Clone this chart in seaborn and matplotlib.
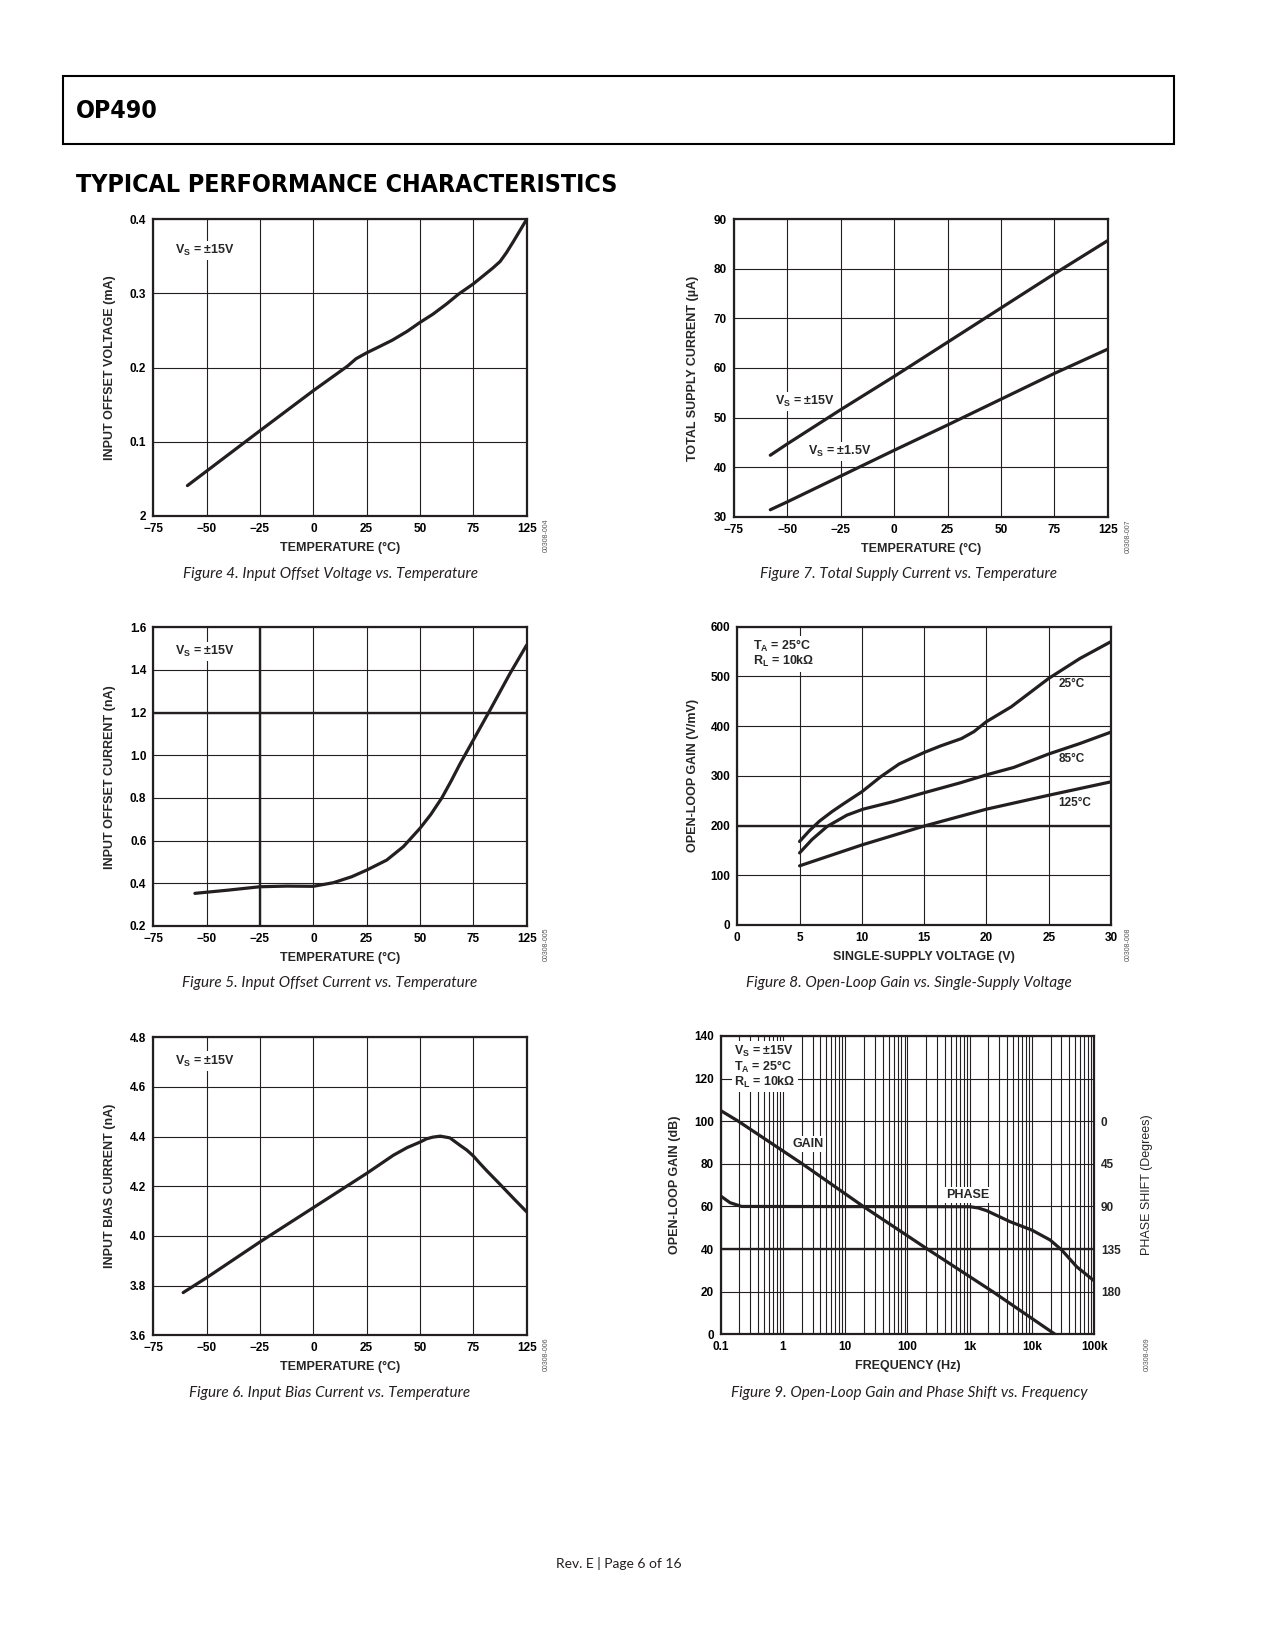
import matplotlib
matplotlib.use("Agg")
import matplotlib.pyplot as plt
import seaborn as sns
import numpy as np
import pandas as pd
from matplotlib import font_manager as fm
from matplotlib.patches import Rectangle
from matplotlib.ticker import LogLocator, NullFormatter

# ---------------- data ----------------
# Figure 4: input offset voltage vs temperature (printed axis: last tick labelled 125)
fig4_temp = [-59, -25, 0, 16, 20, 25, 30, 37, 44, 50, 56, 62.5, 68, 75, 81, 84, 87.5, 90.5, 93.75, 97.7, 100]
fig4_vos = [0.041, 0.115, 0.169, 0.202, 0.212, 0.220, 0.227, 0.237, 0.249, 0.261, 0.272, 0.286, 0.299, 0.313, 0.327, 0.334, 0.343, 0.355, 0.370, 0.389, 0.400]

# Figure 5: input offset current vs temperature
fig5_temp = [-55.5, -40, -25, -12.5, 0, 9.4, 18, 25, 34.4, 42.2, 50, 55, 60.2, 64.5, 68.75, 75, 82.8, 92.2, 100]
fig5_ios = [0.353, 0.368, 0.384, 0.387, 0.386, 0.403, 0.431, 0.462, 0.509, 0.572, 0.658, 0.722, 0.800, 0.878, 0.960, 1.072, 1.212, 1.384, 1.517]

# Figure 6: input bias current vs temperature
fig6_temp = [-61, -50, -25, 0, 25, 37.5, 44, 50, 53, 56, 59.5, 64, 68.75, 71.9, 75, 78.1, 81.25, 87.5, 93.75, 100]
fig6_ib = [3.772, 3.832, 3.976, 4.114, 4.252, 4.325, 4.356, 4.378, 4.391, 4.398, 4.402, 4.395, 4.365, 4.346, 4.322, 4.292, 4.263, 4.208, 4.152, 4.097]

# Figure 7: total supply current vs temperature
fig7_temp = [-58, -50, -25, 0, 25, 50, 75, 100]
fig7_vs15 = [42.4, 44.7, 51.6, 58.3, 65.2, 72.1, 79.0, 85.7]
fig7_vs1p5 = [31.4, 33.0, 38.2, 43.4, 48.5, 53.7, 58.9, 63.8]

# Figure 8: open-loop gain vs single-supply voltage
fig8_v25 = [5, 5.8, 6.6, 7.6, 8.6, 10, 11.5, 13, 15, 16.3, 18, 19, 20, 22, 25, 27.5, 30]
fig8_g25 = [168, 190, 209, 228, 245, 268, 298, 324, 347, 360, 375, 389, 409, 439, 496, 536, 570]
fig8_v85 = [5, 6, 7.2, 8.8, 10.1, 12.5, 15, 17.9, 20, 22.2, 25, 27.5, 30]
fig8_g85 = [145, 172, 198, 221, 233, 248, 266, 286, 302, 317, 344, 365, 388]
fig8_v125 = [5, 10, 15, 20, 25, 30]
fig8_g125 = [119, 161, 199, 233, 261, 288]

# Figure 9: open-loop gain and phase vs frequency
fig9_freq_gain = [0.1, 0.192, 2.05, 19.6, 210, 2360, 23700]
fig9_gain_db = [105, 100, 80, 60, 40, 20, 0]
fig9_freq_phase = [0.1, 0.141, 0.217, 1020, 1380, 1890, 4480, 10000, 19700, 30300, 52800, 100000]
fig9_phase_deg = [79, 86, 90, 90.3, 91.6, 94.5, 106.1, 114.9, 125.4, 136, 153.7, 168.4]

temp_ticks = [-75, -50, -25, 0, 25, 50, 75, 100]
temp_labels = ["\u221275", "\u221250", "\u221225", "0", "25", "50", "75", "125"]
fig4_yticks = [0, 0.1, 0.2, 0.3, 0.4]
fig4_ylabels = ["2", "0.1", "0.2", "0.3", "0.4"]
fig5_yticks = [0.2, 0.4, 0.6, 0.8, 1.0, 1.2, 1.4, 1.6]
fig6_yticks = [3.6, 3.8, 4.0, 4.2, 4.4, 4.6, 4.8]
fig7_yticks = [30, 40, 50, 60, 70, 80, 90]
fig8_xticks = [0, 5, 10, 15, 20, 25, 30]
fig8_yticks = [0, 100, 200, 300, 400, 500, 600]
fig9_xticks = [0.1, 1, 10, 100, 1e3, 1e4, 1e5]
fig9_xlabels = ["0.1", "1", "10", "100", "1k", "10k", "100k"]
fig9_yticks = [0, 20, 40, 60, 80, 100, 120, 140]
fig9_phase_ticks = [0, 45, 90, 135, 180]

# ---------------- style ----------------
W, H = 1275, 1650
sns.set_theme(style="white")
plt.rcParams["font.family"] = ["Liberation Sans", "DejaVu Sans"]
plt.rcParams["mathtext.fontset"] = "custom"
plt.rcParams["mathtext.rm"] = "Liberation Sans:bold"
plt.rcParams["mathtext.it"] = "Liberation Sans:bold"
plt.rcParams["mathtext.bf"] = "Liberation Sans:bold"
plt.rcParams["mathtext.sf"] = "Liberation Sans:bold"

names = {f.name for f in fm.fontManager.ttflist}


def find_condensed_bold():
    pref = []
    for f in fm.fontManager.ttflist:
        nm = f.name
        w = f.weight if isinstance(f.weight, int) else {"bold": 700, "heavy": 800, "black": 900,
                                                         "semibold": 600, "demibold": 600}.get(str(f.weight), 400)
        narrow = ("Narrow" in nm or "Condensed" in nm or "Cond" in nm
                  or str(f.stretch) in ("condensed", "semi-condensed", "extra-condensed", "ultra-condensed"))
        if narrow and w >= 600 and f.style == "normal":
            pref.append(f)
    return pref[0] if pref else None


cf = find_condensed_bold()
if cf is not None:
    title_fp = fm.FontProperties(fname=cf.fname)
else:
    title_fp = fm.FontProperties(family="DejaVu Sans", weight="bold")
cap_family = "Lato" if "Lato" in names else "Open Sans"

INK = "#231f20"
TICK_FS = 8.5
LAB_FS = 9
ANN_FS = 9

fig = plt.figure(figsize=(12.75, 16.5), dpi=100)
renderer = fig.canvas.get_renderer()


def px_rect(l, r, t, b):
    return [l / W, 1 - b / H, (r - l) / W, (b - t) / H]


def style_axes(ax, box, xlabel, ylabel):
    l, r, t, b = box
    w, h = r - l, b - t
    ax.tick_params(length=0, labelsize=TICK_FS, pad=5, colors="black")
    for lab in ax.get_xticklabels() + ax.get_yticklabels():
        lab.set_fontweight("bold")
    ax.grid(True, which="major", color=INK, lw=0.8)
    ax.set_axisbelow(True)
    for s in ax.spines.values():
        s.set_visible(True)
        s.set_color(INK)
        s.set_linewidth(1.6)
    ax.set_xlabel(xlabel, fontsize=LAB_FS, fontweight="bold", va="center", ha="center")
    ax.set_ylabel(ylabel, fontsize=LAB_FS, fontweight="bold", va="center", ha="center")
    ax.xaxis.set_label_coords(0.5, -32 / h)
    ax.yaxis.set_label_coords(-43 / w, 0.5)


def ann(ax, x, y, s, ha="left", pad=1.5, ls=1.2, fs=ANN_FS):
    ax.text(x, y, s, transform=ax.transAxes, fontsize=fs, fontweight="bold",
            ha=ha, va="center", linespacing=ls,
            bbox=dict(facecolor="white", edgecolor="none", pad=pad), zorder=2.5)


def caption(x, y, s):
    fig.text(x / W, 1 - y / H, s, ha="center", va="center", family=cap_family,
             style="italic", fontsize=11, color="#231f20")


def code(x, y, s):
    fig.text(x / W, 1 - y / H, s, ha="center", va="center", rotation=90,
             fontsize=5, color="#555555")


def fit_text(x, y, s, target_w, max_cap):
    t = fig.text(x / W, 1 - y / H, s, ha="left", va="center", color="black",
                 fontproperties=title_fp.copy())
    t.set_fontsize(20)
    bb = t.get_window_extent(renderer)
    size = 20 * target_w / bb.width
    t.set_fontsize(min(size, max_cap))
    return t


def curve(ax, x, y):
    sns.lineplot(x=x, y=y, ax=ax, color=INK, linewidth=2.3, zorder=3)


VS15 = "V$_{\\mathrm{S}}$ = \u00b115V"
VS1p5 = "V$_{\\mathrm{S}}$ = \u00b11.5V"
TA = "T$_{\\mathrm{A}}$ = 25\u00b0C"
RL = "R$_{\\mathrm{L}}$ = 10k\u03a9"

# ---------------- Figure 4 ----------------
b4 = (153.3, 526.7, 219.3, 516)
ax4 = fig.add_axes(px_rect(*b4))
curve(ax4, fig4_temp, fig4_vos)
ax4.set_xlim(-75, 100)
ax4.set_ylim(0, 0.4)
ax4.set_xticks(temp_ticks, temp_labels)
ax4.set_yticks(fig4_yticks, fig4_ylabels)
style_axes(ax4, b4, "TEMPERATURE (\u00b0C)", "INPUT OFFSET VOLTAGE (mA)")
ann(ax4, 0.058, 0.895, VS15)
caption(330, 574, "Figure 4. Input Offset Voltage vs. Temperature")
code(546, 535, "00308-004")

# ---------------- Figure 5 ----------------
b5 = (153.3, 526.7, 627.3, 926)
ax5 = fig.add_axes(px_rect(*b5))
curve(ax5, fig5_temp, fig5_ios)
ax5.set_xlim(-75, 100)
ax5.set_ylim(0.2, 1.6)
ax5.set_xticks(temp_ticks, temp_labels)
ax5.set_yticks(fig5_yticks, [f"{v:.1f}" for v in fig5_yticks])
style_axes(ax5, b5, "TEMPERATURE (\u00b0C)", "INPUT OFFSET CURRENT (nA)")
ax5.axvline(-25, color=INK, lw=1.7, zorder=1)
ax5.axhline(1.2, color=INK, lw=1.7, zorder=1)
ann(ax5, 0.058, 0.919, VS15)
caption(330, 983.5, "Figure 5. Input Offset Current vs. Temperature")
code(546, 944, "00308-005")

# ---------------- Figure 6 ----------------
b6 = (153.3, 526.7, 1037.3, 1335.3)
ax6 = fig.add_axes(px_rect(*b6))
curve(ax6, fig6_temp, fig6_ib)
ax6.set_xlim(-75, 100)
ax6.set_ylim(3.6, 4.8)
ax6.set_xticks(temp_ticks, temp_labels)
ax6.set_yticks(fig6_yticks, [f"{v:.1f}" for v in fig6_yticks])
style_axes(ax6, b6, "TEMPERATURE (\u00b0C)", "INPUT BIAS CURRENT (nA)")
ann(ax6, 0.058, 0.920, VS15)
caption(330, 1393, "Figure 6. Input Bias Current vs. Temperature")
code(546, 1354, "00308-006")

# ---------------- Figure 7 ----------------
b7 = (734, 1107.7, 219.3, 516.7)
ax7 = fig.add_axes(px_rect(*b7))
curve(ax7, fig7_temp, fig7_vs15)
curve(ax7, fig7_temp, fig7_vs1p5)
ax7.set_xlim(-75, 100)
ax7.set_ylim(30, 90)
ax7.set_xticks(temp_ticks, temp_labels)
ax7.set_yticks(fig7_yticks, [str(v) for v in fig7_yticks])
style_axes(ax7, b7, "TEMPERATURE (\u00b0C)", "TOTAL SUPPLY CURRENT (\u00b5A)")
ax7.yaxis.set_label_coords(-41 / (b7[1] - b7[0]), 0.5)
ann(ax7, 0.110, 0.387, VS15)
ann(ax7, 0.198, 0.220, VS1p5)
caption(909, 574, "Figure 7. Total Supply Current vs. Temperature")
code(1128, 536, "00308-007")

# ---------------- Figure 8 ----------------
b8 = (737.3, 1111, 626.7, 925)
ax8 = fig.add_axes(px_rect(*b8))
curve(ax8, fig8_v25, fig8_g25)
curve(ax8, fig8_v85, fig8_g85)
curve(ax8, fig8_v125, fig8_g125)
ax8.set_xlim(0, 30)
ax8.set_ylim(0, 600)
ax8.set_xticks(fig8_xticks, [str(v) for v in fig8_xticks])
ax8.set_yticks(fig8_yticks, [str(v) for v in fig8_yticks])
style_axes(ax8, b8, "SINGLE-SUPPLY VOLTAGE (V)", "OPEN-LOOP GAIN (V/mV)")
ax8.yaxis.set_label_coords(-44 / (b8[1] - b8[0]), 0.5)
ax8.axhline(200, color=INK, lw=1.7, zorder=1)
ann(ax8, 0.043, 0.909, TA + "\n" + RL, ls=1.0)
ann(ax8, 0.859, 0.808, "25\u00b0C", pad=0.5, fs=8.5)
ann(ax8, 0.859, 0.555, "85\u00b0C", pad=0.5, fs=8.5)
ann(ax8, 0.859, 0.408, "125\u00b0C", pad=0.5, fs=8.5)
caption(909, 983.5, "Figure 8. Open-Loop Gain vs. Single-Supply Voltage")
code(1128, 944, "00308-008")

# ---------------- Figure 9 ----------------
b9 = (720.7, 1094, 1036, 1334.3)
ax9 = fig.add_axes(px_rect(*b9))
ax9.set_xscale("log")
curve(ax9, fig9_freq_gain, fig9_gain_db)
ax9.set_xlim(0.1, 1e5)
ax9.set_ylim(0, 140)
ax9.set_xticks(fig9_xticks, fig9_xlabels)
ax9.xaxis.set_minor_locator(LogLocator(base=10, subs=np.arange(2, 10), numticks=50))
ax9.xaxis.set_minor_formatter(NullFormatter())
ax9.set_yticks(fig9_yticks, [str(v) for v in fig9_yticks])
style_axes(ax9, b9, "FREQUENCY (Hz)", "OPEN-LOOP GAIN (dB)")
ax9.tick_params(which="minor", length=0)
ax9.grid(True, which="minor", axis="x", color=INK, lw=0.8)
ax9.yaxis.set_label_coords(-46 / (b9[1] - b9[0]), 0.5)
ax9.axhline(40, color=INK, lw=1.7, zorder=1)

ax9b = ax9.twinx()
curve(ax9b, fig9_freq_phase, fig9_phase_deg)
ax9b.set_xlim(0.1, 1e5)
ax9b.set_ylim(225, -90)
ax9b.set_yticks(fig9_phase_ticks, [str(v) for v in fig9_phase_ticks])
ax9b.tick_params(length=0, labelsize=TICK_FS, pad=5)
for lab in ax9b.get_yticklabels():
    lab.set_fontweight("bold")
ax9b.grid(False)
for s in ax9b.spines.values():
    s.set_visible(False)
ax9b.set_ylabel("PHASE SHIFT (Degrees)", fontsize=LAB_FS, fontweight="normal",
                va="center", ha="center")
ax9b.yaxis.set_label_coords(1 + 53 / (b9[1] - b9[0]), 0.5)

ann(ax9, 0.036, 0.897, VS15 + "\n" + TA + "\n" + RL, ls=1.0)
ann(ax9, 0.234, 0.637, "GAIN", ha="center")
ann(ax9, 0.661, 0.467, "PHASE", ha="center")
caption(909, 1393, "Figure 9. Open-Loop Gain and Phase Shift vs. Frequency")
code(1147, 1354, "00308-009")

# ---------------- page furniture ----------------
fig.add_artist(Rectangle((63 / W, 1 - 144 / H), (1174 - 63) / W, (144 - 76) / H,
                         transform=fig.transFigure, fill=False, edgecolor="black", lw=1.5))
fit_text(76, 110.5, "OP490", 82, 27)
fit_text(76, 185.5, "TYPICAL PERFORMANCE CHARACTERISTICS", 541, 27)
fig.text(619 / W, 1 - 1564 / H, "Rev. E | Page 6 of 16", ha="center", va="center",
         family=cap_family, fontsize=10, color="#231f20")

fig.savefig("out.png", dpi=100, facecolor="white")
